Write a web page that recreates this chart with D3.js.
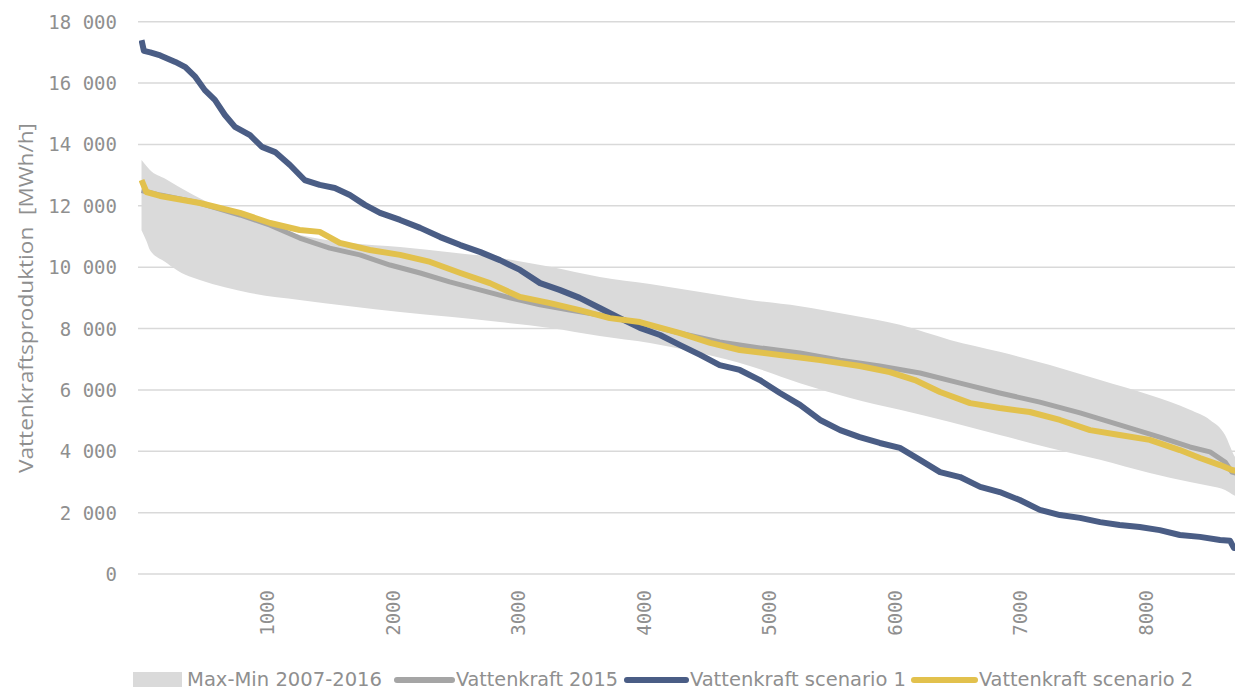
<!DOCTYPE html>
<html>
<head>
<meta charset="utf-8">
<script src="https://cdn.jsdelivr.net/npm/d3@7"></script>
<style>
  html, body { margin: 0; padding: 0; background: #fff; }
  svg { display: block; }
</style>
</head>
<body>
<svg id="chart" width="1235" height="692"></svg>
<script>
// ---------- DATA ----------
const yTicks = [0, 2000, 4000, 6000, 8000, 10000, 12000, 14000, 16000, 18000];
const xTicks = [1000, 2000, 3000, 4000, 5000, 6000, 7000, 8000];
const seriesNames = ["Max-Min 2007-2016", "Vattenkraft 2015", "Vattenkraft scenario 1", "Vattenkraft scenario 2"];
const yTitle = "Vattenkraftsproduktion\u00a0\u00a0[MWh/h]";

// Max-Min band
const bandHours = [1, 40, 68, 190, 230, 350, 465, 865, 1260, 1660, 2060, 2455, 2855, 3255, 3650, 4050, 4450, 4845, 5245, 5645, 6040, 6440, 6835, 7235, 7635, 8030, 8350, 8510, 8630, 8700, 8760];
const bandMax   = [13490, 13300, 13170, 12880, 12780, 12500, 12250, 11540, 11050, 10790, 10660, 10490, 10300, 10010, 9680, 9450, 9190, 8930, 8730, 8440, 8120, 7630, 7240, 6810, 6320, 5830, 5350, 5020, 4530, 3880, 3500];
const bandMin   = [11200, 10850, 10560, 10170, 10050, 9750, 9580, 9160, 8930, 8730, 8540, 8380, 8210, 8020, 7760, 7530, 7200, 6780, 6220, 5740, 5350, 4950, 4530, 4110, 3720, 3290, 3000, 2870, 2740, 2570, 2450];

// Vattenkraft 2015
const v2015Hours  = [1, 150, 465, 785, 1025, 1260, 1500, 1740, 1980, 2220, 2455, 2695, 2935, 3175, 3410, 3650, 3970, 4290, 4605, 4925, 5245, 5565, 5880, 6200, 6520, 6835, 7155, 7475, 7790, 8110, 8350, 8510, 8630, 8685, 8760];
const v2015Values = [12500, 12350, 12090, 11700, 11370, 10950, 10620, 10400, 10070, 9810, 9520, 9260, 9000, 8770, 8600, 8440, 8180, 7850, 7560, 7370, 7200, 6970, 6780, 6550, 6220, 5900, 5600, 5250, 4860, 4460, 4140, 3980, 3650, 3320, 3250];

// Vattenkraft scenario 1
const s1Hours  = [1, 20, 70, 150, 270, 350, 430, 505, 585, 665, 745, 865, 960, 1065, 1183, 1300, 1420, 1540, 1660, 1780, 1900, 2060, 2220, 2380, 2540, 2700, 2855, 3015, 3175, 3330, 3490, 3650, 3810, 3970, 4130, 4290, 4450, 4605, 4765, 4925, 5085, 5245, 5405, 5565, 5720, 5880, 6040, 6200, 6360, 6520, 6680, 6835, 6995, 7155, 7315, 7475, 7635, 7790, 7950, 8110, 8270, 8430, 8590, 8670, 8700, 8760];
const s1Values = [17400, 17050, 17000, 16900, 16690, 16520, 16200, 15770, 15450, 14960, 14570, 14300, 13920, 13750, 13330, 12840, 12680, 12580, 12350, 12030, 11770, 11540, 11280, 10980, 10720, 10490, 10230, 9910, 9480, 9260, 9000, 8670, 8340, 8020, 7790, 7460, 7140, 6810, 6650, 6320, 5900, 5510, 5020, 4690, 4460, 4270, 4110, 3720, 3320, 3160, 2840, 2670, 2410, 2090, 1920, 1830, 1690, 1600, 1530, 1430, 1270, 1210, 1110, 1080, 850, 850];

// Vattenkraft scenario 2
const s2Hours  = [1, 40, 150, 465, 785, 1025, 1260, 1420, 1580, 1820, 2060, 2300, 2540, 2775, 3015, 3255, 3490, 3730, 3970, 4290, 4530, 4765, 5085, 5405, 5720, 5960, 6160, 6360, 6600, 6835, 7075, 7315, 7555, 7790, 8030, 8270, 8430, 8590, 8685, 8760];
const s2Values = [12840, 12450, 12320, 12090, 11770, 11440, 11210, 11150, 10790, 10560, 10400, 10170, 9810, 9480, 9030, 8830, 8600, 8340, 8210, 7850, 7530, 7300, 7140, 6970, 6780, 6580, 6320, 5930, 5570, 5410, 5280, 5020, 4690, 4530, 4370, 4040, 3780, 3550, 3390, 3330];

// ---------- CHART ----------
const svg = d3.select("#chart");
const W = 1235, H = 692;
const plotLeft = 138, plotRight = 1235;

const x = d3.scaleLinear().domain([0, 8760]).range([141.4, 141.4 + 8760 * 0.12557]);
const y = d3.scaleLinear().domain([0, 18000]).range([574, 21.7]);

const colors = {
  band: "#dadada",
  v2015: "#a5a5a5",
  s1: "#4a5d85",
  s2: "#e2c14d",
  text: "#8f8f8f",
  grid: "#d9d9d9"
};

const fmtY = v => d3.format(",")(v).replace(/,/g, " ");

// clip
svg.append("defs").append("clipPath").attr("id", "plotclip")
  .append("rect").attr("x", 139).attr("y", 0).attr("width", W - 139).attr("height", 600);

// gridlines
const gGrid = svg.append("g");
gGrid.selectAll("line").data(yTicks).join("line")
  .attr("x1", plotLeft).attr("x2", plotRight)
  .attr("y1", d => y(d)).attr("y2", d => y(d))
  .attr("stroke", colors.grid).attr("stroke-width", 1.5);

// y tick labels
svg.append("g").selectAll("text").data(yTicks).join("text")
  .attr("x", 117).attr("y", d => y(d) + 7)
  .attr("text-anchor", "end")
  .attr("font-family", "DejaVu Sans Mono, monospace")
  .attr("font-size", 19)
  .attr("fill", colors.text)
  .text(d => fmtY(d));

// x tick labels (rotated)
svg.append("g").selectAll("text").data(xTicks).join("text")
  .attr("transform", d => `translate(${x(d) + 7},590) rotate(-90)`)
  .attr("text-anchor", "end")
  .attr("font-family", "DejaVu Sans Mono, monospace")
  .attr("font-size", 19)
  .attr("fill", colors.text)
  .text(d => d);

// y axis title
svg.append("text")
  .attr("transform", "translate(33,298) rotate(-90)")
  .attr("text-anchor", "middle")
  .attr("font-family", "Open Sans, Lato, sans-serif")
  .attr("font-size", 20)
  .attr("fill", colors.text)
  .attr("textLength", 350)
  .attr("lengthAdjust", "spacingAndGlyphs")
  .text(yTitle);

const plot = svg.append("g").attr("clip-path", "url(#plotclip)");

// band
const bandData = bandHours.map((h, i) => ({ h, hi: bandMax[i], lo: bandMin[i] }));
plot.append("path")
  .datum(bandData)
  .attr("fill", colors.band)
  .attr("d", d3.area().curve(d3.curveMonotoneX).x(d => x(d.h)).y0(d => y(d.lo)).y1(d => y(d.hi)));

function drawLine(hours, values, color, width) {
  const data = hours.map((h, i) => ({ h, v: values[i] }));
  plot.append("path")
    .datum(data)
    .attr("fill", "none")
    .attr("stroke", color)
    .attr("stroke-width", width)
    .attr("stroke-linejoin", "round")
    .attr("d", d3.line().x(d => x(d.h)).y(d => y(d.v)));
}
drawLine(v2015Hours, v2015Values, colors.v2015, 5);
drawLine(s1Hours, s1Values, colors.s1, 6);
drawLine(s2Hours, s2Values, colors.s2, 6);

// legend
const legend = svg.append("g").attr("font-family", "Liberation Sans Narrow, DejaVu Sans Condensed, sans-serif")
  .attr("font-size", 19).attr("fill", colors.text);
const legItems = [
  { name: seriesNames[0], type: "rect", color: colors.band, sx: 133, sw: 49, tx: 187, tw: 195 },
  { name: seriesNames[1], type: "line", color: colors.v2015, sx: 397, sw: 55, tx: 456, tw: 162 },
  { name: seriesNames[2], type: "line", color: colors.s1, sx: 627, sw: 59, tx: 690, tw: 216 },
  { name: seriesNames[3], type: "line", color: colors.s2, sx: 914, sw: 61, tx: 979, tw: 214 }
];
legItems.forEach(it => {
  if (it.type === "rect") {
    legend.append("rect").attr("x", it.sx).attr("y", 672).attr("width", it.sw).attr("height", 15).attr("fill", it.color);
  } else {
    legend.append("line").attr("x1", it.sx).attr("x2", it.sx + it.sw).attr("y1", 680).attr("y2", 680)
      .attr("stroke", it.color).attr("stroke-width", 6).attr("stroke-linecap", "round");
  }
  legend.append("text").attr("x", it.tx).attr("y", 686)
    .attr("textLength", it.tw).attr("lengthAdjust", "spacingAndGlyphs")
    .text(it.name);
});
</script>
</body>
</html>
